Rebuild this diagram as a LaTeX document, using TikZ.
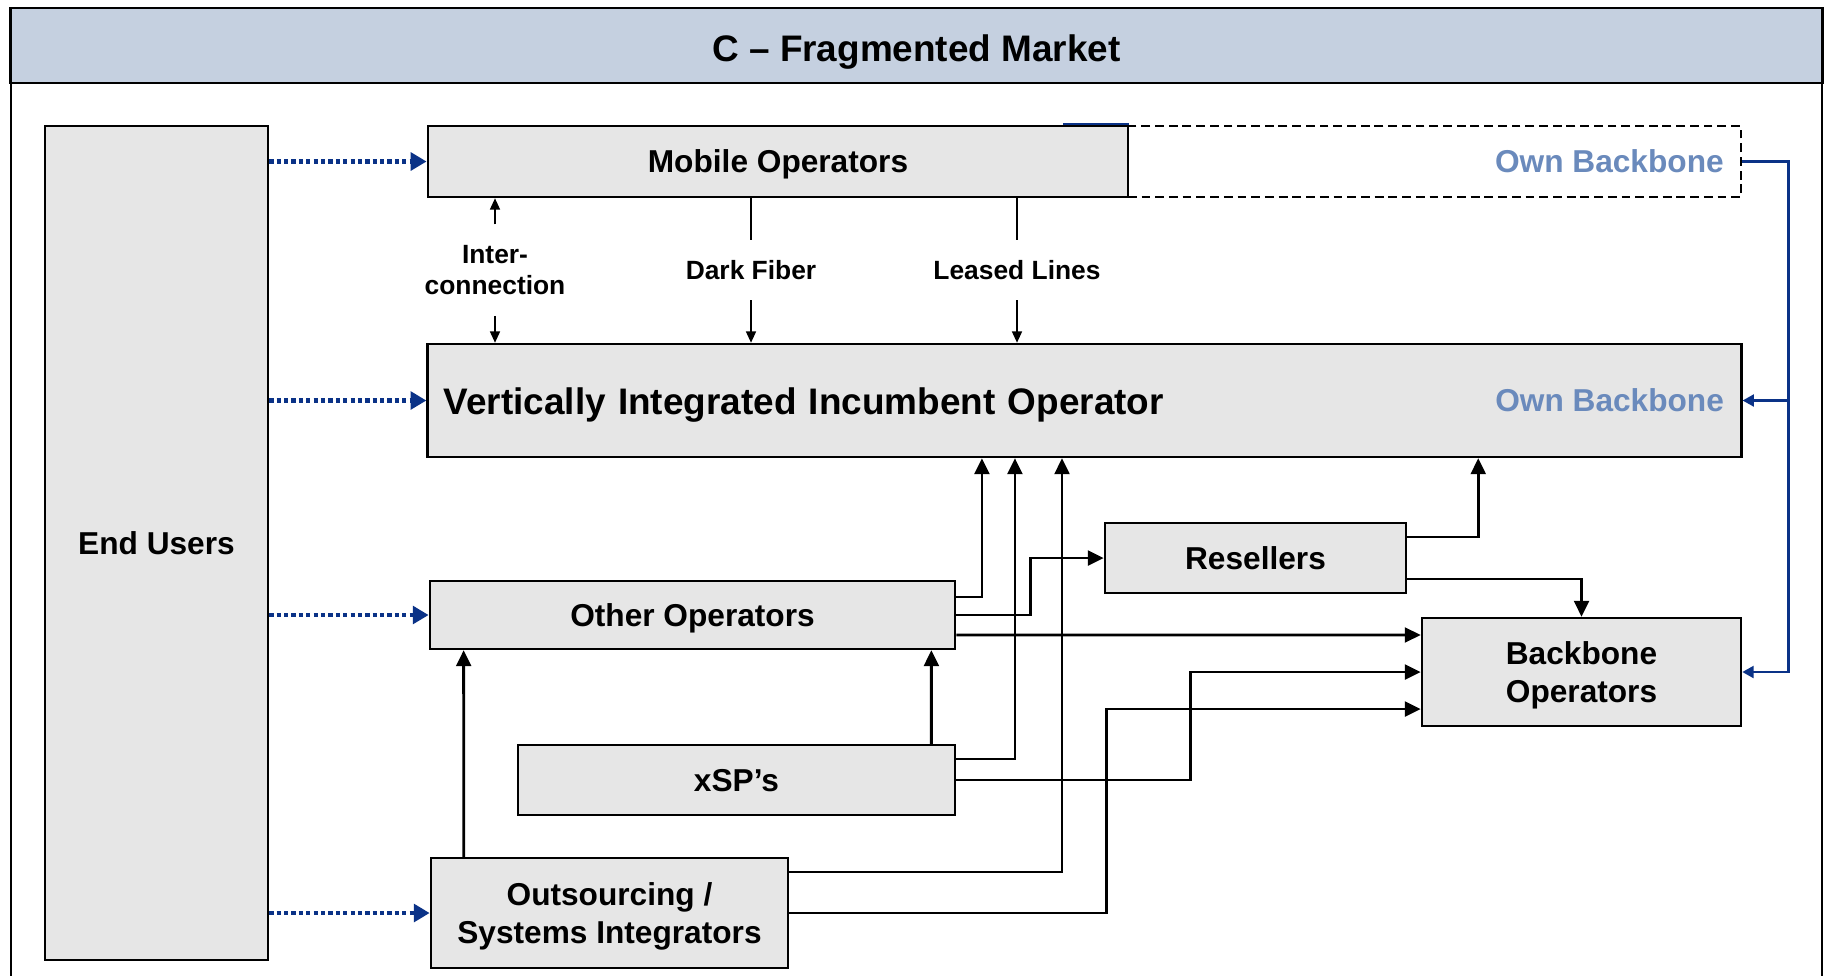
\documentclass[tikz,border=0pt]{standalone}
\usepackage{fontspec}
\setmainfont{Liberation Sans}
\usetikzlibrary{arrows.meta}
\definecolor{boxgray}{RGB}{230,230,230}
\definecolor{bandblue}{RGB}{197,208,224}
\definecolor{bbtext}{RGB}{106,138,188}
\definecolor{navy}{RGB}{10,50,135}
\begin{document}
\begin{tikzpicture}[x=0.01cm,y=-0.01cm,
  box/.style={draw,line width=0.7pt,fill=boxgray,font=\fontsize{9}{11}\selectfont\bfseries,align=center,inner sep=0pt,text height=6.5pt,text depth=0pt},
  twoline/.style={text height=17.5pt,text depth=0pt},
  conn/.style={line width=0.8pt,-{Triangle[length=4.5pt,width=4.2pt]}},
  thinarr/.style={line width=0.5pt,-{Triangle[length=3.2pt,width=2.8pt]}},
  dotarr/.style={navy,line width=1.3pt,dash pattern=on 1.2pt off 0.9pt,-{Triangle[length=4.5pt,width=5pt]}},
  bbarr/.style={navy,line width=0.6pt,-{Triangle[length=3.2pt,width=3.4pt]}},
  lbl/.style={font=\fontsize{7.5}{9}\selectfont\bfseries,align=center,inner xsep=0pt,inner ysep=0.2cm},
  bbtxt/.style={font=\fontsize{9}{11}\selectfont\bfseries,text=bbtext,inner sep=0pt,anchor=east}]
\useasboundingbox (0,0) rectangle (1828,975);
\draw[line width=0.8pt,fill=white] (11,8) rectangle (1822,1000);
\node[draw,line width=0.8pt,fill=bandblue,minimum width=18.11cm,minimum height=0.75cm,inner sep=0pt,text height=9.1pt,text depth=0pt,font=\fontsize{10.5}{12}\selectfont\bfseries] (title) at (916.5,45.5) {C – Fragmented Market};

\node[box,minimum width=2.23cm,minimum height=8.34cm] (endu) at (156.5,543) {End Users};
\node[draw,line width=0.7pt,dash pattern=on 2.5pt off 1.4pt,minimum width=6.13cm,minimum height=0.71cm,inner sep=0pt] (ownbb) at (1434.5,161.5) {};
\node[box,minimum width=7cm,minimum height=0.71cm] (mob) at (778,161.5) {Mobile Operators};
\node[bbtxt] (ownbbtop) at ([xshift=-0.18cm]ownbb.east) {Own Backbone};
\node[box,minimum width=13.13cm,minimum height=1.13cm,text width=12.81cm,align=left,text height=8pt,font=\fontsize{10.5}{12}\selectfont\bfseries] (viio) at (1084.5,400.5) {Vertically Integrated Incumbent Operator};
\node[bbtxt] (ownbbmid) at ([xshift=-0.18cm]viio.east) {Own Backbone};
\node[box,minimum width=5.25cm,minimum height=0.68cm] (oth) at (692.5,615) {Other Operators};
\node[box,minimum width=3.01cm,minimum height=0.70cm] (res) at (1255.5,558) {Resellers};
\node[box,twoline,minimum width=3.19cm,minimum height=1.08cm] (bbo) at (1581.5,672) {Backbone\\Operators};
\node[box,minimum width=4.37cm,minimum height=0.70cm] (xsp) at (736.5,780) {xSP’s};
\node[box,twoline,minimum width=3.57cm,minimum height=1.10cm] (outs) at (609.5,913) {Outsourcing /\\Systems Integrators};

\node[lbl] (ic) at (495,270) {Inter-\\connection};
\node[lbl] (df) at (751,270) {Dark Fiber};
\node[lbl] (ll) at (1017,270) {Leased Lines};
\draw[thinarr] (ic.north) -- (mob.south -| ic.north);
\draw[thinarr] (ic.south) -- (viio.north -| ic.south);
\draw[line width=0.5pt] (mob.south -| df.north) -- (df.north);
\draw[thinarr] (df.south) -- (viio.north -| df.south);
\draw[line width=0.5pt] (mob.south -| ll.north) -- (ll.north);
\draw[thinarr] (ll.south) -- (viio.north -| ll.south);

\draw[dotarr] (endu.east |- mob.west) -- (mob.west);
\draw[dotarr] (endu.east |- viio.west) -- (viio.west);
\draw[dotarr] (endu.east |- oth.west) -- (oth.west);
\draw[dotarr] (endu.east |- outs.west) -- (outs.west);

\draw[conn] ([yshift=0.18cm]oth.east) -| ([xshift=-1.025cm]viio.south);
\draw[conn] (oth.east) -- ++(74,0) |- (res.west);
\draw[conn] ([yshift=-0.2cm]oth.east) -- ([yshift=0.37cm]bbo.west);
\draw[conn] ([xshift=-0.25cm]xsp.north east) -- ([xshift=-0.25cm]oth.south east);
\draw[conn] ([yshift=0.21cm]xsp.east) -| ([xshift=-0.695cm]viio.south);
\draw[conn] (xsp.east) -- ++(234,0) |- (bbo.west);
\draw[conn] ([xshift=0.34cm]outs.north west) -- ([xshift=0.35cm]oth.south west);
\draw[conn] ([yshift=0.41cm]outs.east) -| ([xshift=-0.225cm]viio.south);
\draw[conn] (outs.east) -- ++(317,0) |- ([yshift=-0.37cm]bbo.west);
\draw[conn] ([yshift=0.21cm]res.east) -| ([xshift=3.935cm]viio.south);
\draw[conn] ([yshift=-0.21cm]res.east) -| (bbo.north);

\coordinate (trunk) at ([xshift=0.46cm]ownbb.east);
\draw[bbarr] (ownbb.east) -- (trunk) |- (bbo.east);
\draw[bbarr] (trunk |- viio.east) -- (viio.east);
\draw[navy,line width=0.6pt] ([xshift=-0.66cm,yshift=0.01cm]mob.north east) -- ([yshift=0.01cm]mob.north east);
\end{tikzpicture}
\end{document}
